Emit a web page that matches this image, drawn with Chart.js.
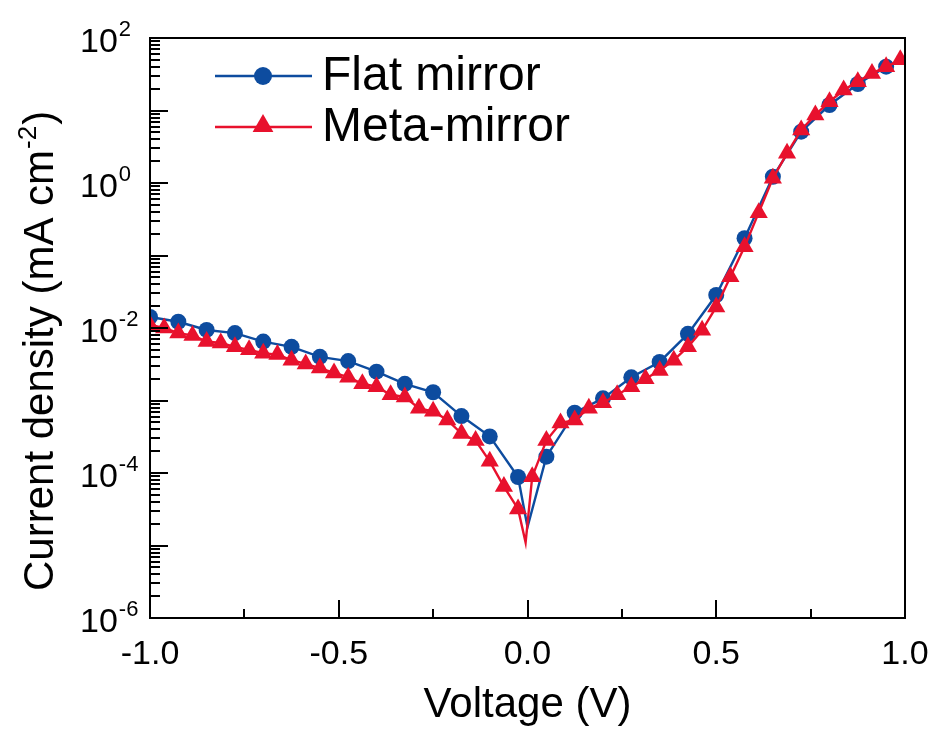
<!DOCTYPE html>
<html>
<head>
<meta charset="utf-8">
<script src="https://cdn.jsdelivr.net/npm/chart.js@4.4.1/dist/chart.umd.min.js"></script>
<style>
html,body{margin:0;padding:0;background:#ffffff;}
#wrap{width:933px;height:736px;position:relative;}
</style>
</head>
<body>
<div id="wrap"><canvas id="c" width="933" height="736"></canvas></div>
<script>
// ---------------- data ----------------
const seriesNames = ['Flat mirror', 'Meta-mirror'];

const flatVoltage = [-1.0, -0.925, -0.85, -0.775, -0.7, -0.625, -0.55, -0.475, -0.4, -0.325, -0.25, -0.175, -0.1, -0.025,
  0.05, 0.125, 0.2, 0.275, 0.35, 0.425, 0.5, 0.575, 0.65, 0.725, 0.8, 0.875, 0.95];
const flatCurrent = [0.0142, 0.0122, 0.0094, 0.0085, 0.0065, 0.0055, 0.0040, 0.0035, 0.0025, 0.0017, 0.0013, 0.00061, 0.00032, 0.000088,
  0.000168, 0.00068, 0.00107, 0.00209, 0.0034, 0.0083, 0.0285, 0.173, 1.22, 5.1, 11.9, 23.2, 40.2];
// unmarked minimum of the measured curve
const flatDipVoltage = [0.0];
const flatDipCurrent = [0.000018];

const metaVoltage = [-1.0, -0.9625, -0.925, -0.8875, -0.85, -0.8125, -0.775, -0.7375, -0.7, -0.6625,
  -0.625, -0.5875, -0.55, -0.5125, -0.475, -0.4375, -0.4, -0.3625, -0.325, -0.2875,
  -0.25, -0.2125, -0.175, -0.1375, -0.1, -0.0625, -0.025, 0.0125, 0.05, 0.0875,
  0.125, 0.1625, 0.2, 0.2375, 0.275, 0.3125, 0.35, 0.3875, 0.425, 0.4625,
  0.5, 0.5375, 0.575, 0.6125, 0.65, 0.6875, 0.725, 0.7625, 0.8, 0.8375,
  0.875, 0.9125, 0.95, 0.9875];
const metaCurrent = [0.0110, 0.0100, 0.0085, 0.0079, 0.0065, 0.0062, 0.0055, 0.0050, 0.0045, 0.0043,
  0.0036, 0.0032, 0.0028, 0.0024, 0.0021, 0.0017, 0.00155, 0.0012, 0.00112, 0.00078,
  0.00071, 0.00054, 0.00035, 0.00028, 0.000145, 0.000065, 0.000032, 0.000089, 0.00028, 0.00049,
  0.00054, 0.00078, 0.00093, 0.0012, 0.00155, 0.0020, 0.0026, 0.0036, 0.0055, 0.0093,
  0.0195, 0.051, 0.132, 0.39, 1.16, 2.57, 5.4, 8.7, 13.2, 19.2,
  25.0, 32.5, 40.0, 50.0];
const metaDipVoltage = [-0.005];
const metaDipCurrent = [0.000011];

const xTickValues = [-1, -0.5, 0, 0.5, 1];
const xMinorTickValues = [-0.75, -0.25, 0.25, 0.75];
const yTickExponents = [-6, -4, -2, 0, 2];
const yDecadeExponents = [-6, -5, -4, -3, -2, -1, 0, 1, 2];
const yMinorMultipliers = [2, 3, 4, 5, 6, 7, 8, 9];
const xTitle = 'Voltage (V)';
const yTitleMain = 'Current density (mA cm';
const yTitleSup = '-2';
const yTitleEnd = ')';

// ---------------- styling ----------------
const BLUE = '#0d4c9f';
const RED = '#e8112d';
const FONT = "'Liberation Sans', Arial, Helvetica, sans-serif";

function buildPoints(vs, js, dvs, djs) {
  const pts = vs.map((v, i) => ({x: v, y: js[i], dip: false}));
  dvs.forEach((v, i) => pts.push({x: v, y: djs[i], dip: true}));
  pts.sort((a, b) => a.x - b.x);
  return pts;
}

const flatPts = buildPoints(flatVoltage, flatCurrent, flatDipVoltage, flatDipCurrent);
const metaPts = buildPoints(metaVoltage, metaCurrent, metaDipVoltage, metaDipCurrent);

// frame + inward ticks
const framePlugin = {
  id: 'frame',
  afterDatasetsDraw(chart) {
    const {ctx, chartArea: a, scales} = chart;
    const x = scales.x, y = scales.y;
    ctx.save();
    ctx.strokeStyle = '#000';
    ctx.lineWidth = 2;
    ctx.strokeRect(a.left, a.top, a.right - a.left, a.bottom - a.top);
    ctx.beginPath();
    xTickValues.forEach(v => { const p = Math.round(x.getPixelForValue(v)); ctx.moveTo(p, a.bottom); ctx.lineTo(p, a.bottom - 18); });
    xMinorTickValues.forEach(v => { const p = Math.round(x.getPixelForValue(v)); ctx.moveTo(p, a.bottom); ctx.lineTo(p, a.bottom - 9); });
    yDecadeExponents.forEach(e => {
      const base = Math.pow(10, e);
      const p = Math.round(y.getPixelForValue(base));
      ctx.moveTo(a.left, p); ctx.lineTo(a.left + 18, p);
      if (e < 2) {
        yMinorMultipliers.forEach(m => {
          const q = Math.round(y.getPixelForValue(m * base));
          ctx.moveTo(a.left, q); ctx.lineTo(a.left + 10, q);
        });
      }
    });
    ctx.stroke();
    ctx.restore();
  }
};

// y tick labels (power-of-ten with superscript) and y title with superscript
const yLabelPlugin = {
  id: 'yLabels',
  afterDraw(chart) {
    const {ctx, scales} = chart;
    const y = scales.y;
    ctx.save();
    ctx.fillStyle = '#000';
    ctx.textAlign = 'left';
    ctx.textBaseline = 'alphabetic';
    yTickExponents.forEach(e => {
      const py = y.getPixelForValue(Math.pow(10, e));
      ctx.font = '34px ' + FONT;
      ctx.fillText('10', 80, py + 14);
      const w = ctx.measureText('10').width;
      ctx.font = '22px ' + FONT;
      ctx.fillText(String(e), 80 + w + 1, py - 2);
    });
    // y title
    ctx.translate(53, 591);
    ctx.rotate(-Math.PI / 2);
    ctx.font = '42px ' + FONT;
    ctx.fillText(yTitleMain, 0, 0);
    let w = ctx.measureText(yTitleMain).width;
    ctx.font = '26px ' + FONT;
    ctx.fillText(yTitleSup, w + 1, -17);
    w += ctx.measureText(yTitleSup).width + 2;
    ctx.font = '42px ' + FONT;
    ctx.fillText(yTitleEnd, w, 0);
    ctx.restore();
  }
};

// legend: line with centred marker
const legendPlugin = {
  id: 'lineLegend',
  afterDraw(chart) {
    const ctx = chart.ctx;
    const rows = [
      {ds: chart.data.datasets[1], y: 76},
      {ds: chart.data.datasets[0], y: 127}
    ];
    ctx.save();
    rows.forEach(r => {
      const ds = r.ds;
      ctx.strokeStyle = ds.borderColor;
      ctx.lineWidth = 2.4;
      ctx.beginPath(); ctx.moveTo(215, r.y); ctx.lineTo(312, r.y); ctx.stroke();
      ctx.fillStyle = ds.backgroundColor;
      const cx = 263;
      ctx.beginPath();
      if (ds.pointStyle === 'circle') {
        ctx.arc(cx, r.y, 9, 0, Math.PI * 2);
      } else {
        const rad = 12;
        const cy = r.y - 1;
        ctx.moveTo(cx, cy - rad);
        ctx.lineTo(cx + rad * Math.sin(2 * Math.PI / 3), cy - rad * Math.cos(2 * Math.PI / 3));
        ctx.lineTo(cx + rad * Math.sin(4 * Math.PI / 3), cy - rad * Math.cos(4 * Math.PI / 3));
        ctx.closePath();
      }
      ctx.fill();
      ctx.fillStyle = '#000';
      ctx.font = '48px ' + FONT;
      ctx.textBaseline = 'middle';
      ctx.textAlign = 'left';
      ctx.fillText(ds.label, 322, r.y + 1);
    });
    ctx.restore();
  }
};

const chart = new Chart(document.getElementById('c'), {
  type: 'line',
  data: {
    datasets: [
      {
        label: seriesNames[1],
        data: metaPts,
        borderColor: RED,
        backgroundColor: RED,
        borderWidth: 2.4,
        pointStyle: 'triangle',
        pointRadius: c => (c.raw && c.raw.dip) ? 0 : 10.5,
        pointBorderWidth: 0,
        pointHoverRadius: 10.5,
        tension: 0,
        clip: 0,
        order: 0
      },
      {
        label: seriesNames[0],
        data: flatPts,
        borderColor: BLUE,
        backgroundColor: BLUE,
        borderWidth: 2.4,
        pointStyle: 'circle',
        pointRadius: c => (c.raw && c.raw.dip) ? 0 : 8,
        pointBorderWidth: 0,
        pointHoverRadius: 8,
        tension: 0,
        clip: 0,
        order: 1
      }
    ]
  },
  options: {
    responsive: false,
    animation: false,
    devicePixelRatio: 1,
    layout: {padding: {top: 38, right: 28, left: 0, bottom: 0}},
    plugins: {legend: {display: false}, tooltip: {enabled: false}},
    events: [],
    scales: {
      x: {
        type: 'linear',
        min: -1, max: 1,
        afterBuildTicks: s => { s.ticks = xTickValues.map(v => ({value: v})); },
        afterFit: s => { s.height = 118; s.paddingLeft = 0; s.paddingRight = 0; },
        grid: {display: false, drawTicks: false},
        border: {display: false},
        ticks: {
          color: '#000', padding: 16, maxRotation: 0, autoSkip: false,
          font: {family: FONT, size: 34},
          callback: v => Number(v).toFixed(1)
        },
        title: {display: true, text: xTitle, color: '#000', font: {family: FONT, size: 42}, padding: {top: 0, bottom: 5}}
      },
      y: {
        type: 'logarithmic',
        min: 1e-6, max: 1e2,
        afterBuildTicks: s => { s.ticks = yTickExponents.map(e => ({value: Math.pow(10, e)})); },
        afterFit: s => { s.width = 150; s.paddingTop = 0; s.paddingBottom = 0; },
        grid: {display: false, drawTicks: false},
        border: {display: false},
        ticks: {display: false},
        title: {display: false}
      }
    }
  },
  plugins: [framePlugin, yLabelPlugin, legendPlugin]
});
</script>
</body>
</html>
